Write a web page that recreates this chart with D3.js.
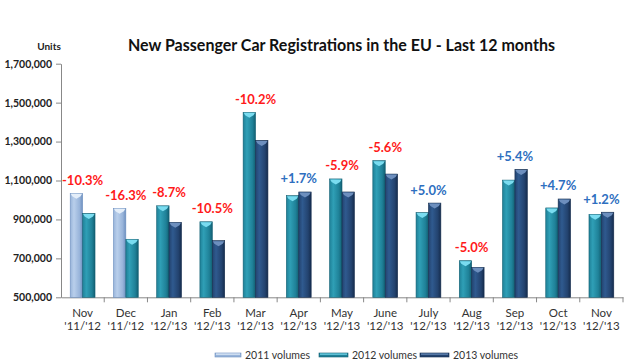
<!DOCTYPE html>
<html><head><meta charset="utf-8">
<script src="https://cdn.jsdelivr.net/npm/d3@7/dist/d3.min.js"></script>
<style>
body{margin:0;background:#fff;}
svg{display:block;font-family:Lato,"Open Sans",sans-serif;}
</style></head>
<body><svg id="c" width="625" height="363"></svg>
<script>
const months = ["Nov","Dec","Jan","Feb","Mar","Apr","May","June","July","Aug","Sep","Oct","Nov"];
const periods = ["'11/'12","'11/'12","'12/'13","'12/'13","'12/'13","'12/'13","'12/'13","'12/'13","'12/'13","'12/'13","'12/'13","'12/'13","'12/'13"];
// first bar of each pair (older year), second bar (newer year)
const firstSeries = ["2011","2011","2012","2012","2012","2012","2012","2012","2012","2012","2012","2012","2012"];
const secondSeries = ["2012","2012","2013","2013","2013","2013","2013","2013","2013","2013","2013","2013","2013"];
const firstValues = [1034000,957000,970000,888000,1450000,1022000,1108000,1202000,935000,688000,1102000,959000,926000];
const secondValues = [931000,798000,885000,791000,1306000,1041000,1041000,1133000,984000,654000,1157000,1005000,937000];
const changes = ["-10.3%","-16.3%","-8.7%","-10.5%","-10.2%","+1.7%","-5.9%","-5.6%","+5.0%","-5.0%","+5.4%","+4.7%","+1.2%"];
const yTicks = [500000,700000,900000,1100000,1300000,1500000,1700000];
const legendLabels = ["2011 volumes","2012 volumes","2013 volumes"];
const legendKeys = ["2011","2012","2013"];

const svg = d3.select("#c");
const mLeft = 61, mRight = 623, mTop = 63.7, mBottom = 297.3;

const style = {
  "2011": {light:"#b9cfeb", mid:"#98b4da", dark:"#6d8fbf", cap:"#e4eef9"},
  "2012": {light:"#2f9fb6", mid:"#1f8198", dark:"#125f72", cap:"#7adcf0"},
  "2013": {light:"#2f5a8f", mid:"#23436f", dark:"#152c4d", cap:"#6d8fbe"}
};
const defs = svg.append("defs");
Object.keys(style).forEach(k => {
  const g = defs.append("linearGradient").attr("id","g"+k).attr("x1","0").attr("x2","1").attr("y1","0").attr("y2","0");
  g.append("stop").attr("offset","0%").attr("stop-color",style[k].mid);
  g.append("stop").attr("offset","30%").attr("stop-color",style[k].light);
  g.append("stop").attr("offset","75%").attr("stop-color",style[k].mid);
  g.append("stop").attr("offset","100%").attr("stop-color",style[k].dark);
});

const x = d3.scaleBand().domain(d3.range(months.length)).range([mLeft,mRight]).padding(0);
const y = d3.scaleLinear().domain([500000,1700000]).range([mBottom,mTop]);

// Title
svg.append("text").attr("x",341.5).attr("y",51).attr("text-anchor","middle")
  .attr("font-weight","bold").attr("font-size",17.5).attr("fill","#111")
  .attr("textLength",427).attr("lengthAdjust","spacingAndGlyphs")
  .text("New Passenger Car Registrations in the EU - Last 12 months");
svg.append("text").attr("x",49).attr("y",50).attr("text-anchor","middle")
  .attr("font-weight","bold").attr("font-size",10).attr("fill","#222").text("Units");

// Y axis
const yAxis = svg.append("g").attr("transform",`translate(${mLeft},0)`)
  .call(d3.axisLeft(y).tickValues(yTicks).tickFormat(d3.format(",")).tickSize(5).tickSizeOuter(0));
yAxis.select(".domain").attr("stroke","#888");
yAxis.selectAll(".tick line").attr("stroke","#888");
yAxis.selectAll(".tick text").attr("font-weight","bold").attr("font-size",10.5).attr("fill","#222")
  .attr("x",-9).attr("font-family","Lato,sans-serif");

// X axis
const xAxis = svg.append("g").attr("transform",`translate(0,${mBottom})`)
  .call(d3.axisBottom(x).tickValues([]).tickSizeOuter(0));
xAxis.select(".domain").attr("stroke","#888");
const bounds = d3.range(months.length+1).map(i => i < months.length ? x(i) : x(months.length-1)+x.bandwidth());
svg.append("g").selectAll("line").data(bounds.slice(1)).join("line")
  .attr("x1",d=>d).attr("x2",d=>d).attr("y1",mBottom).attr("y2",mBottom+5).attr("stroke","#888");
const xl = svg.append("g");
months.forEach((m,i) => {
  const cx = x(i)+x.bandwidth()/2;
  xl.append("text").attr("x",cx).attr("y",317).attr("text-anchor","middle").attr("font-size",11.5).attr("fill","#333").text(m);
  xl.append("text").attr("x",cx).attr("y",330).attr("text-anchor","middle").attr("font-size",11.5).attr("fill","#333").text(periods[i]);
});

// Bars
const bw = 12.4;
function drawBar(g, x0, v, key){
  const yt = y(v), s = style[key];
  g.append("rect").attr("x",x0).attr("y",yt).attr("width",bw).attr("height",mBottom-yt)
    .attr("fill",`url(#g${key})`).attr("stroke",s.dark).attr("stroke-width",0.6);
  g.append("path").attr("d",`M${x0+0.5},${yt+0.5} L${x0+bw-0.5},${yt+0.5} L${x0+bw-2},${yt+3} L${x0+bw/2},${yt+5.5} L${x0+2},${yt+3} Z`)
    .attr("fill",s.cap);
}
const bars = svg.append("g");
months.forEach((m,i) => {
  const cx = x(i)+x.bandwidth()/2;
  drawBar(bars, cx-bw, firstValues[i], firstSeries[i]);
  drawBar(bars, cx, secondValues[i], secondSeries[i]);
  const topV = Math.max(firstValues[i], secondValues[i]);
  svg.append("text").attr("x",cx).attr("y",y(topV)-8.5).attr("text-anchor","middle")
    .attr("font-weight","bold").attr("font-size",13)
    .attr("fill",changes[i][0]==="-" ? "#ff1a1a" : "#2e6fc0").text(changes[i]);
});

// Legend
const legX = [215,319,420], legW = [26,29,29];
legendKeys.forEach((k,i) => {
  const s = style[k];
  svg.append("rect").attr("x",legX[i]).attr("y",353).attr("width",legW[i]).attr("height",4)
    .attr("fill",s.mid).attr("stroke",s.dark).attr("stroke-width",0.6);
  svg.append("rect").attr("x",legX[i]+1).attr("y",353.5).attr("width",legW[i]-2).attr("height",1.2).attr("fill",s.cap);
  svg.append("text").attr("x",legX[i]+legW[i]+4).attr("y",358.5).attr("font-size",10.5).attr("fill","#333").text(legendLabels[i]);
});
</script></body></html>
